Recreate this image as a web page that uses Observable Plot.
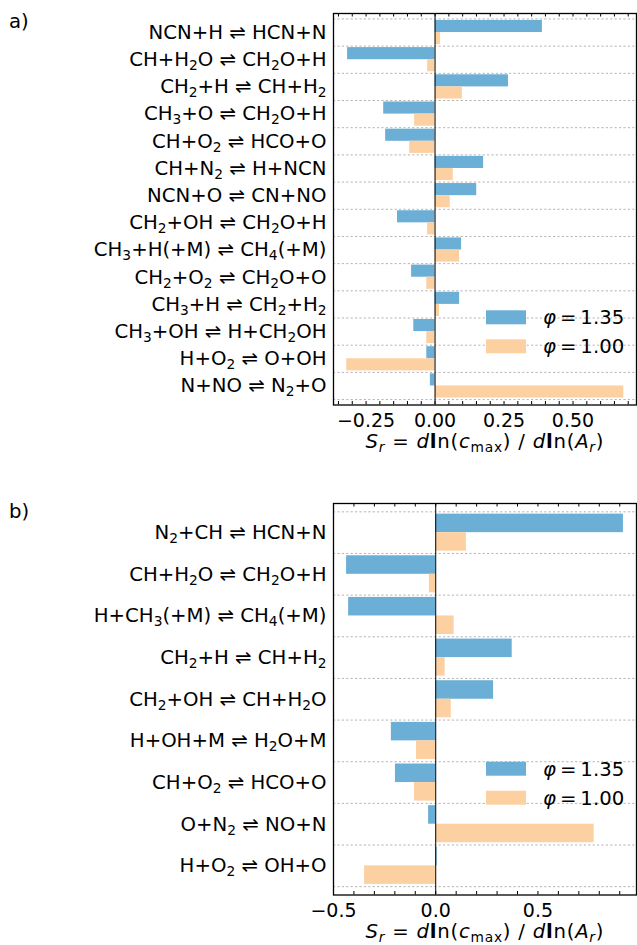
<!DOCTYPE html>
<html><head><meta charset="utf-8">
<script src="https://cdn.jsdelivr.net/npm/d3@7"></script>
<script src="https://cdn.jsdelivr.net/npm/@observablehq/plot@0.6"></script>
<style>
body{margin:0;background:#fff;}
#wrap{position:relative;width:637px;height:945px;overflow:hidden;font-family:"DejaVu Sans";background:#fff;}
.panel{position:absolute;left:0;}
</style></head><body><div id="wrap"></div>
<script>
// ---- data ----
const reactionsA = ["NCN+H ⇌ HCN+N", "CH+H₂O ⇌ CH₂O+H", "CH₂+H ⇌ CH+H₂", "CH₃+O ⇌ CH₂O+H", "CH+O₂ ⇌ HCO+O", "CH+N₂ ⇌ H+NCN", "NCN+O ⇌ CN+NO", "CH₂+OH ⇌ CH₂O+H", "CH₃+H(+M) ⇌ CH₄(+M)", "CH₂+O₂ ⇌ CH₂O+O", "CH₃+H ⇌ CH₂+H₂", "CH₃+OH ⇌ H+CH₂OH", "H+O₂ ⇌ O+OH", "N+NO ⇌ N₂+O"];
const phi135A = [0.389, -0.317, 0.266, -0.186, -0.179, 0.176, 0.151, -0.136, 0.096, -0.085, 0.089, -0.077, -0.030, -0.017];
const phi100A = [0.020, -0.027, 0.099, -0.074, -0.092, 0.066, 0.055, -0.027, 0.089, -0.030, 0.016, -0.030, -0.320, 0.684];

const reactionsB = ["N₂+CH ⇌ HCN+N", "CH+H₂O ⇌ CH₂O+H", "H+CH₃(+M) ⇌ CH₄(+M)", "CH₂+H ⇌ CH+H₂", "CH₂+OH ⇌ CH+H₂O", "H+OH+M ⇌ H₂O+M", "CH+O₂ ⇌ HCO+O", "O+N₂ ⇌ NO+N", "H+O₂ ⇌ OH+O"];
const phi135B = [0.918, -0.436, -0.426, 0.374, 0.283, -0.217, -0.197, -0.035, 0.007];
const phi100B = [0.150, -0.031, 0.090, 0.046, 0.076, -0.094, -0.104, 0.775, -0.348];

const seriesNames = ["1.35", "1.00"];
const seriesColors = ["#6baed6", "#fdd0a2"];

const xTicksA = [-0.25, 0, 0.25, 0.5];
const xTickLabelsA = ["−0.25", "0.00", "0.25", "0.50"];
const xTicksB = [-0.5, 0, 0.5];
const xTickLabelsB = ["−0.5", "0.0", "0.5"];
const xDomainA = [-0.368, 0.730];
const xDomainB = [-0.5, 0.982];
const panelLetters = ["a)", "b)"];

// ---- layout ----
const W = 637, H = 455, mT = 13, mB = 50.5, mL = 333, mR = 1;
const FS = 19.7, TFS = 19;
const SUBFS = 13.8, SUBDY = 4;
const FONT = "DejaVu Sans";

function subscriptify(el) {
  const s = el.textContent;
  const sel = d3.select(el);
  sel.text(null);
  const re = /([₀-₉]+)/;
  let pending = 0;
  s.split(re).forEach(part => {
    if (!part) return;
    if (/^[₀-₉]+$/.test(part)) {
      const digits = part.replace(/[₀-₉]/g, c => String.fromCharCode(c.charCodeAt(0) - 0x2080 + 48));
      sel.append("tspan").attr("font-size", SUBFS).attr("dy", SUBDY + pending).text(digits);
      pending = -SUBDY;
    } else {
      const ts = sel.append("tspan").text(part);
      if (pending) ts.attr("dy", pending);
      pending = 0;
    }
  });
}

function makePanel(reactions, v1, v2, xDomain, ticks, tickLabels, minorStep, letter, legendY) {
  const n = reactions.length;
  const rows = [];
  reactions.forEach((r, i) => {
    rows.push({i, series: seriesNames[0], value: v1[i]});
    rows.push({i, series: seriesNames[1], value: v2[i]});
  });
  const minor = d3.range(Math.ceil(xDomain[0] / minorStep - 1e-9), Math.floor(xDomain[1] / minorStep + 1e-9) + 1).map(k => k * minorStep);
  const frameH = H - mT - mB;
  const tickLen = 3.5;
  const svgEl = Plot.plot({
    width: W, height: H, marginTop: mT, marginBottom: mB, marginLeft: mL, marginRight: mR,
    style: {fontFamily: FONT, fontSize: FS + "px", background: "white", color: "black", overflow: "visible"},
    x: {domain: xDomain},
    y: {domain: [-0.2, n + 0.2], range: [mT, H - mB]},
    color: {domain: seriesNames, range: seriesColors},
    marks: [
      Plot.ruleY(d3.range(n + 1), {y: d => d, stroke: "#b4b4b4", strokeWidth: 1, strokeDasharray: "2.2,2.2"}),
      Plot.rect(rows, {
        x1: () => 0, x2: "value",
        y1: d => d.i + (d.series === seriesNames[0] ? 0.055 : 0.5),
        y2: d => d.i + (d.series === seriesNames[0] ? 0.5 : 0.945),
        fill: "series"
      }),
      Plot.ruleX([0], {x: d => d, stroke: "black", strokeWidth: 1}),
      Plot.ruleX(minor, {x: d => d, insetTop: frameH - tickLen, stroke: "black", strokeWidth: 1}),
      Plot.ruleX(minor, {x: d => d, insetBottom: frameH - tickLen, stroke: "black", strokeWidth: 1}),
      Plot.axisX({anchor: "bottom", ticks: ticks, tickFormat: d => tickLabels[ticks.indexOf(d)], tickSize: 0, tickPadding: 8, fontSize: TFS, label: null}),
      Plot.axisY({anchor: "left", ticks: d3.range(n).map(i => i + 0.5), tickFormat: d => reactions[Math.floor(d)], tickSize: 0, tickPadding: 7, fontSize: FS, label: null}),
      Plot.frame({stroke: "black", strokeWidth: 1.3})
    ]
  });
  const svg = d3.select(svgEl);
  svg.selectAll('g[aria-label="y-axis tick label"] text').each(function () { subscriptify(this); });
  // panel letter
  svg.append("text").attr("x", 9).attr("y", 28).attr("text-anchor", "start").attr("font-size", FS).attr("font-family", FONT).attr("fill", "black").text(letter);
  // x-axis label (math style)
  const cx = (mL + W - mR) / 2;
  const t = svg.append("text").attr("x", cx).attr("y", 448).attr("text-anchor", "middle")
    .attr("font-size", FS).attr("font-family", FONT).attr("fill", "black")
    .attr("textLength", 238).attr("lengthAdjust", "spacing");
  const SH = 4;
  const parts = [
    ["S", "italic", "normal", 0, FS], ["r", "italic", "normal", SH, SUBFS], [" = ", "normal", "normal", -SH, FS],
    ["d", "italic", "normal", 0, FS], ["l", "normal", "bold", 0, FS], ["n(", "normal", "normal", 0, FS],
    ["c", "italic", "normal", 0, FS], ["max", "normal", "normal", SH, SUBFS], [")", "normal", "normal", -SH, FS],
    [" / ", "normal", "normal", 0, FS], ["d", "italic", "normal", 0, FS], ["l", "normal", "bold", 0, FS],
    ["n(", "normal", "normal", 0, FS], ["A", "italic", "normal", 0, FS],
    ["r", "italic", "normal", SH, SUBFS], [")", "normal", "normal", -SH, FS]
  ];
  parts.forEach(([s, st, wt, dy, fs]) => {
    t.append("tspan").attr("font-style", st).attr("font-weight", wt).attr("dy", dy).attr("font-size", fs).text(s);
  });
  // legend
  const lg = svg.append("g");
  seriesNames.forEach((name, k) => {
    const y0 = legendY + k * 29;
    lg.append("rect").attr("x", 486).attr("y", y0).attr("width", 40).attr("height", 14).attr("fill", seriesColors[k]);
    const tt = lg.append("text").attr("x", 543).attr("y", y0 + 7 + 7).attr("text-anchor", "start").attr("font-size", FS).attr("font-family", FONT).attr("fill", "black");
    tt.append("tspan").attr("font-style", "italic").text("φ");
    tt.append("tspan").text("\u2009=\u2009" + name);
  });
  return svgEl;
}

const wrap = document.getElementById("wrap");
const pa = makePanel(reactionsA, phi135A, phi100A, xDomainA, xTicksA, xTickLabelsA, 0.05, panelLetters[0], 310.3);
pa.classList.add("panel"); pa.style.top = "0px";
wrap.appendChild(pa);
const pb = makePanel(reactionsB, phi135B, phi100B, xDomainB, xTicksB, xTickLabelsB, 0.1, panelLetters[1], 271.7);
pb.classList.add("panel"); pb.style.top = "490px";
wrap.appendChild(pb);
</script></body></html>
